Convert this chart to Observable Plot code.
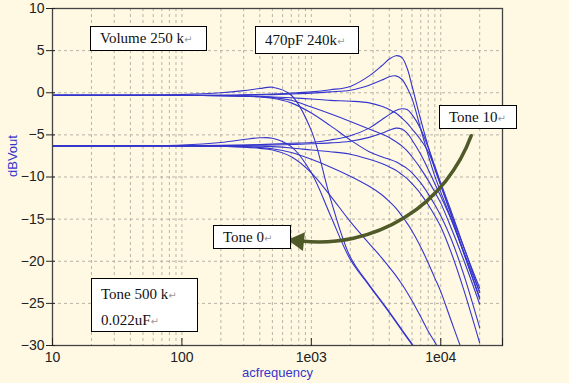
<!DOCTYPE html>
<html><head><meta charset="utf-8">
<script src="https://cdn.jsdelivr.net/npm/d3@7"></script>
<script src="https://cdn.jsdelivr.net/npm/@observablehq/plot@0.6"></script>
<style>
html,body{margin:0;padding:0;background:#FFF9E4;}
#wrap{position:relative;width:569px;height:383px;overflow:hidden;background:#FFF9E4;}
.box{position:absolute;background:#fff;border:1px solid #000;font-family:"Liberation Serif","DejaVu Serif",serif;font-size:15px;color:#111;box-sizing:border-box;white-space:nowrap;}
.ret{color:#999;font-size:10px;font-family:"DejaVu Sans",sans-serif;}
</style></head><body><div id="wrap"></div>
<script>
// ---- data ----
const freqs = [10, 30, 100, 200, 300, 400, 500, 700, 1000, 1400, 2000, 2800, 3500, 4000, 4500, 5000, 5500, 6000, 7000, 8000, 9000, 10000, 12000, 15000, 20000];
const curveNames = ["V10 T10","V10 T8","V10 T6","V10 T4","V10 T2","V10 T0","V5 T10","V5 T8","V5 T6","V5 T4","V5 T2","V5 T0"];
const top10 = [-0.3,-0.3,-0.3,-0.3,-0.25,-0.2,-0.15,-0.05,0.1,0.35,0.75,2.0,3.2,4.0,4.4,4.2,2.9,0.8,-3.2,-6.4,-9.0,-11.0,-14.3,-18.3,-23.2];
const top8  = [-0.3,-0.3,-0.3,-0.3,-0.28,-0.25,-0.22,-0.15,-0.05,0.1,0.3,0.9,1.5,1.9,2.0,1.6,0.6,-0.7,-4.3,-7.4,-9.9,-11.8,-14.9,-18.8,-23.7];
const top6  = [-0.3,-0.3,-0.3,-0.35,-0.4,-0.45,-0.5,-0.6,-0.75,-0.9,-1.0,-1.2,-1.6,-2.0,-2.4,-3.0,-3.6,-4.3,-5.6,-7.0,-9.0,-11.0,-14.5,-18.9,-24.3];
const top4  = [-0.3,-0.3,-0.3,-0.35,-0.4,-0.45,-0.55,-0.9,-1.7,-2.5,-3.4,-4.3,-4.9,-5.3,-5.8,-6.3,-6.9,-7.6,-9.0,-10.4,-11.8,-13.1,-16.0,-19.8,-25.1];
const top2  = [-0.3,-0.3,-0.3,-0.35,-0.4,-0.5,-0.65,-1.2,-2.4,-3.9,-5.6,-7.0,-7.6,-7.9,-8.2,-8.6,-9.0,-9.5,-10.7,-12.0,-13.3,-14.6,-17.3,-21.5,-27.9];
const top0  = [-0.3,-0.3,-0.2,0.0,0.25,0.5,0.65,-0.3,-4.5,-12.5,-19.5,-22.8,-24.8,-26.0,-27.1,-28.1,-29.0,-29.8,-31.2,-32.5,-33.5,-34.5,-36,-38,-40];
const low10 = [-6.3,-6.3,-6.3,-6.25,-6.2,-6.15,-6.1,-6.0,-5.9,-5.6,-5.1,-4.2,-3.2,-2.6,-2.1,-1.9,-2.0,-2.6,-4.3,-6.5,-8.7,-10.7,-14.0,-18.2,-23.7];
const low8  = [-6.3,-6.3,-6.3,-6.28,-6.25,-6.22,-6.2,-6.15,-6.05,-5.95,-5.75,-5.3,-4.8,-4.45,-4.2,-4.3,-4.8,-5.6,-7.3,-9.1,-10.8,-12.3,-15.0,-19.0,-24.5];
const low6  = [-6.3,-6.3,-6.3,-6.3,-6.32,-6.35,-6.4,-6.55,-6.8,-7.0,-7.3,-7.9,-8.4,-8.8,-9.2,-9.7,-10.2,-10.8,-12.0,-13.3,-14.6,-15.9,-18.9,-23.3,-29.7];
const low4  = [-6.3,-6.3,-6.3,-6.35,-6.4,-6.5,-6.65,-7.1,-7.9,-8.8,-9.9,-11.1,-12.1,-12.9,-13.7,-14.6,-15.5,-16.4,-18.3,-20.2,-22.0,-23.6,-27.0,-31.0,-35];
const low2  = [-6.3,-6.3,-6.3,-6.35,-6.45,-6.6,-6.8,-7.6,-9.5,-12.2,-15.3,-17.9,-19.6,-20.7,-21.7,-22.7,-23.7,-24.7,-26.6,-28.3,-29.6,-30.8,-32.8,-35,-38];
const low0  = [-6.3,-6.3,-6.2,-5.9,-5.55,-5.35,-5.4,-6.4,-9.5,-14.5,-19.8,-22.9,-24.9,-26.1,-27.2,-28.2,-29.1,-29.9,-31.3,-32.6,-33.6,-34.6,-36.1,-38.1,-40.1];
const seriesValues = [top10, top8, top6, top4, top2, top0, low10, low8, low6, low4, low2, low0];

const xTicks = [10, 100, 1000, 10000, 30000];
const xTickLabels = ["10", "100", "1e03", "1e04", "3e04"];
const yTicks = [-30, -25, -20, -15, -10, -5, 0, 5, 10];
const gridX = [20,30,40,50,60,70,80,90,100,200,300,400,500,600,700,800,900,1000,2000,3000,4000,5000,6000,7000,8000,9000,10000,20000];
const gridY = [-25, -20, -15, -10, -5, 0, 5];
const arrowFrom = {f: 17200, db: -5.1};
const arrowTo = {f: 840, db: -17.6};

// ---- build ----
const rows = [];
seriesValues.forEach((vals, k) => vals.forEach((v, i) => rows.push({f: freqs[i], db: v, curve: curveNames[k]})));
const labelOf = new Map(xTicks.map((t, i) => [t, xTickLabels[i]]));
const blue = "#3535cc";
const olive = "#4f5a28";

const chart = Plot.plot({
  width: 569, height: 383,
  marginLeft: 52, marginRight: 67, marginTop: 8, marginBottom: 38,
  style: {background: "transparent", fontFamily: "'Liberation Sans', Arial, sans-serif", fontSize: "14px", color: "#222", overflow: "visible"},
  x: {type: "log", domain: [10, 30000]},
  y: {domain: [-30, 10]},
  marks: [
    Plot.ruleX(gridX, {stroke: "#b8b3a6", strokeDasharray: "3,3", strokeWidth: 1}),
    Plot.ruleY(gridY, {stroke: "#b8b3a6", strokeDasharray: "3,3", strokeWidth: 1}),
    Plot.line(rows, {x: "f", y: "db", z: "curve", stroke: blue, strokeWidth: 1.1, curve: "catmull-rom", clip: true}),
    Plot.frame({stroke: "#444", strokeWidth: 1.3}),
    Plot.ruleX(xTicks, {y1: -30, y2: -30, insetTop: -7, insetBottom: -1, stroke: "#222"}),
    Plot.ruleY(yTicks, {x1: 10, x2: 10, insetLeft: -6, insetRight: -3, stroke: "#222"}),
    Plot.axisX(xTicks, {tickSize: 0, tickPadding: 7, tickFormat: d => labelOf.get(d), label: null, fill: "#222"}),
    Plot.axisY(yTicks, {tickSize: 0, tickPadding: 8, label: null, fill: "#222"}),
    Plot.text(["acfrequency"], {frameAnchor: "bottom", dy: 31, fill: blue, fontSize: 13}),
    Plot.text(["dBVout"], {frameAnchor: "left", dx: -40, rotate: -90, fill: blue, fontSize: 13}),
    Plot.arrow([{x1: arrowFrom.f, y1: arrowFrom.db, x2: arrowTo.f, y2: arrowTo.db}], {x1: "x1", y1: "y1", x2: "x2", y2: "y2", bend: 38, stroke: olive, strokeWidth: 3.5, headLength: 0}),
    Plot.dot([arrowTo], {x: "f", y: "db", symbol: "triangle", r: 6, rotate: -84, fill: olive, stroke: olive, dx: -3})
  ]
});
const wrap = document.getElementById("wrap");
wrap.appendChild(chart);

const boxes = [
  {lines: ["Volume 250 k"], left: 90, top: 26, w: 117, h: 25},
  {lines: ["470pF 240k"], left: 255, top: 26, w: 104, h: 28},
  {lines: ["Tone 10"], left: 439, top: 105, w: 78, h: 24},
  {lines: ["Tone 0"], left: 213, top: 225, w: 78, h: 24},
  {lines: ["Tone 500 k", "0.022uF"], left: 91, top: 278, w: 107, h: 54}
];
for (const b of boxes) {
  const d = document.createElement("div");
  d.className = "box";
  Object.assign(d.style, {left: b.left + "px", top: b.top + "px", width: b.w + "px", height: b.h + "px", paddingLeft: "9px", paddingTop: b.lines.length > 1 ? "3px" : "0"});
  const lh = b.lines.length > 1 ? 24 : b.h - 2;
  d.innerHTML = b.lines.map(t => `<div style="line-height:${lh}px">${t}<span class="ret">↵</span></div>`).join("");
  wrap.appendChild(d);
}
</script></body></html>
